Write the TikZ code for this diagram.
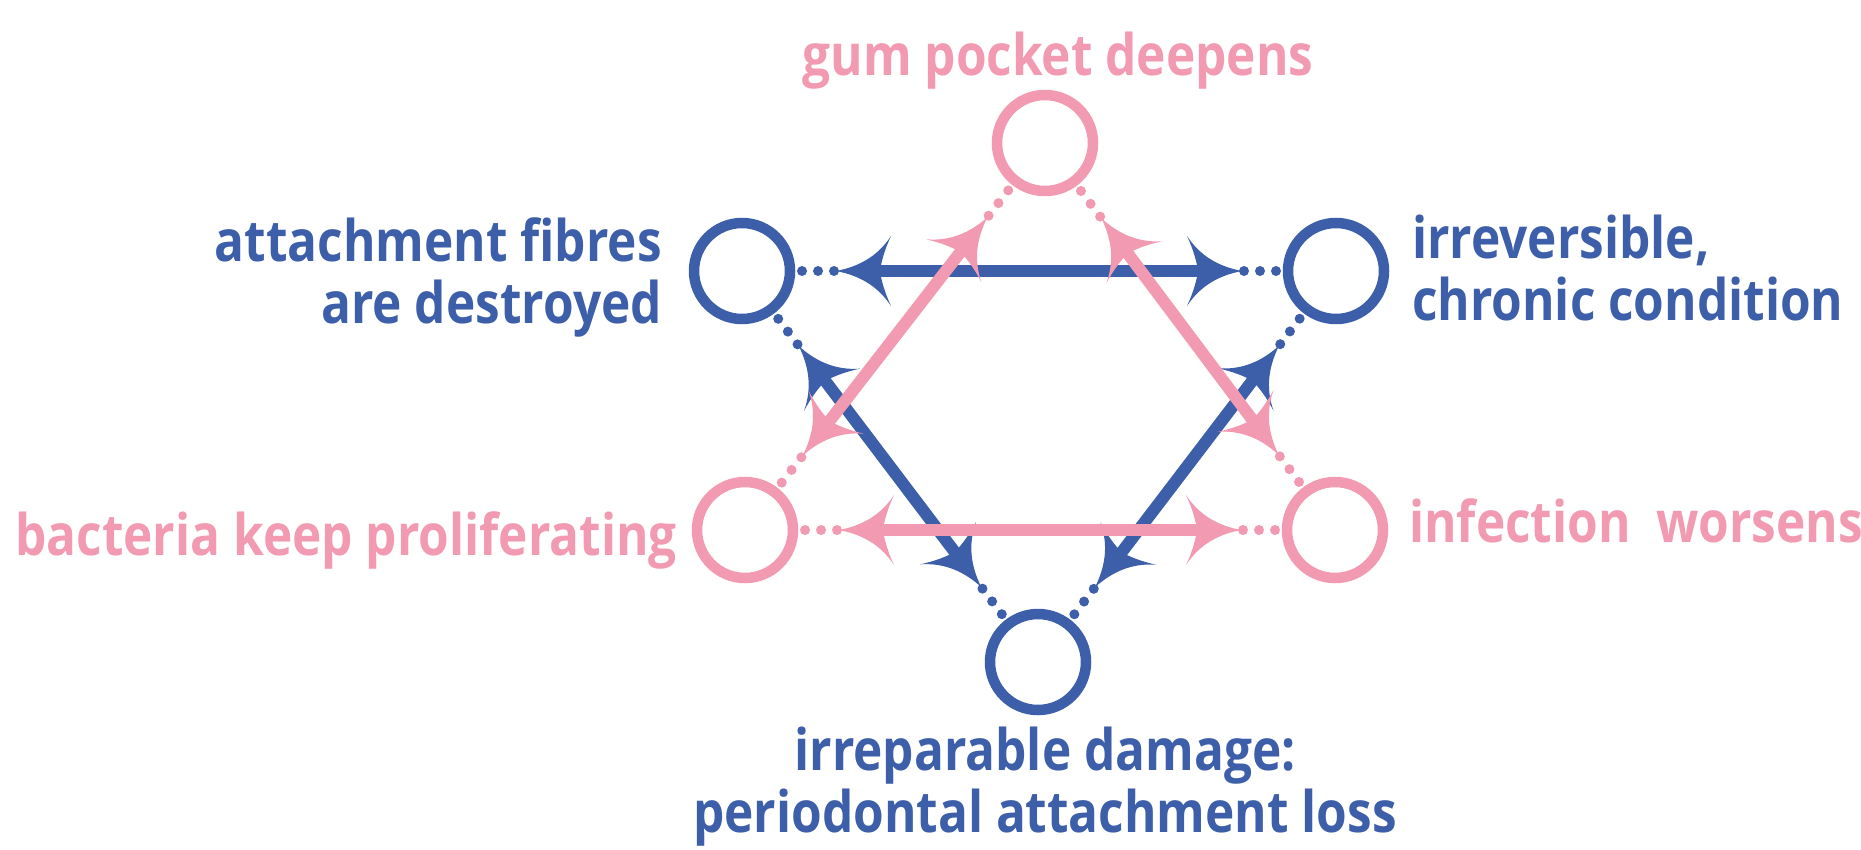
\documentclass[tikz,border=0pt]{standalone}
\usepackage{fontspec}
\setmainfont{Open Sans}[FakeStretch=0.865]
\usetikzlibrary{calc,arrows.meta}
\definecolor{cblue}{HTML}{3D5EA8}
\definecolor{cpink}{HTML}{F29AB1}

\pgfdeclarearrow{
  name = Swoop,
  defaults = {length = 55bp, width = 70bp},
  parameters = {\the\pgfarrowlength,\the\pgfarrowwidth},
  setup code = {
    \pgfarrowssettipend{0pt}
    \pgfarrowssetlineend{-.7\pgfarrowlength}
    \pgfarrowssetbackend{-\pgfarrowlength}
    \pgfarrowssetvisualbackend{-.8\pgfarrowlength}
    \pgfarrowshullpoint{0pt}{0pt}
    \pgfarrowsupperhullpoint{-\pgfarrowlength}{.5\pgfarrowwidth}
    \pgfarrowssavethe\pgfarrowlength
    \pgfarrowssavethe\pgfarrowwidth
  },
  drawing code = {
    \pgfpathmoveto{\pgfqpoint{0pt}{0pt}}
    \pgfpathcurveto{\pgfqpoint{-.4\pgfarrowlength}{.06\pgfarrowwidth}}{\pgfqpoint{-.75\pgfarrowlength}{.2\pgfarrowwidth}}{\pgfqpoint{-\pgfarrowlength}{.5\pgfarrowwidth}}
    \pgfpathcurveto{\pgfqpoint{-.88\pgfarrowlength}{.3\pgfarrowwidth}}{\pgfqpoint{-.82\pgfarrowlength}{.12\pgfarrowwidth}}{\pgfqpoint{-.8\pgfarrowlength}{0pt}}
    \pgfpathcurveto{\pgfqpoint{-.82\pgfarrowlength}{-.12\pgfarrowwidth}}{\pgfqpoint{-.88\pgfarrowlength}{-.3\pgfarrowwidth}}{\pgfqpoint{-\pgfarrowlength}{-.5\pgfarrowwidth}}
    \pgfpathcurveto{\pgfqpoint{-.75\pgfarrowlength}{-.2\pgfarrowwidth}}{\pgfqpoint{-.4\pgfarrowlength}{-.06\pgfarrowwidth}}{\pgfqpoint{0pt}{0pt}}
    \pgfpathclose
    \pgfusepathqfill
  }
}

\newcommand{\linkpair}[3]{%
  \draw[dotsline=#3] ($(#1.center)!60bp!(#2.center)$) -- ($(#1.center)!92.5bp!(#2.center)$);
  \draw[dotsline=#3] ($(#2.center)!60bp!(#1.center)$) -- ($(#2.center)!92.5bp!(#1.center)$);
  \draw[link=#3] ($(#1.center)!94bp!(#2.center)$) -- ($(#2.center)!94bp!(#1.center)$);
}

\begin{document}
\begin{tikzpicture}[x=1bp,y=-1bp,
  ring/.style={circle, draw=#1, line width=10.5bp, minimum size=96bp, inner sep=0pt},
  lbl/.style={text=#1, font=\fontsize{57.5}{62}\selectfont\bfseries, inner sep=0pt},
  link/.style={draw=#1, line width=12bp, {Swoop}-{Swoop}},
  dotsline/.style={draw=#1, line width=10bp, line cap=round, dash pattern=on 0bp off 16bp},
]
\useasboundingbox[fill=white] (0,0) rectangle (1861,850);

\node[ring=cpink] (top) at (1045,143) {};
\node[ring=cblue] (ul) at (742,271) {};
\node[ring=cblue] (ur) at (1336,271) {};
\node[ring=cpink] (ll) at (745,530) {};
\node[ring=cpink] (lr) at (1335,530) {};
\node[ring=cblue] (bot) at (1038,662) {};

\linkpair{ul}{ur}{cblue}
\linkpair{ul}{bot}{cblue}
\linkpair{ur}{bot}{cblue}
\linkpair{ll}{lr}{cpink}
\linkpair{top}{ll}{cpink}
\linkpair{top}{lr}{cpink}

\node[lbl=cpink, anchor=base] (tgum) at (1058,75) {gum pocket deepens};
\node[lbl=cblue, anchor=base east, align=right] (tatt) at (662,323) {attachment fibres\\are destroyed};
\node[lbl=cblue, anchor=base west, align=left] (tirr) at (1412,320) {irreversible,\\chronic condition};
\node[lbl=cpink, anchor=base east] (tbac) at (677,555) {bacteria keep proliferating};
\node[lbl=cpink, anchor=base west] (tinf) at (1409,542) {infection\ \ worsens};
\node[lbl=cblue, anchor=base, align=center] (tirp) at (1045,832) {irreparable damage:\\periodontal attachment loss};
\end{tikzpicture}
\end{document}
